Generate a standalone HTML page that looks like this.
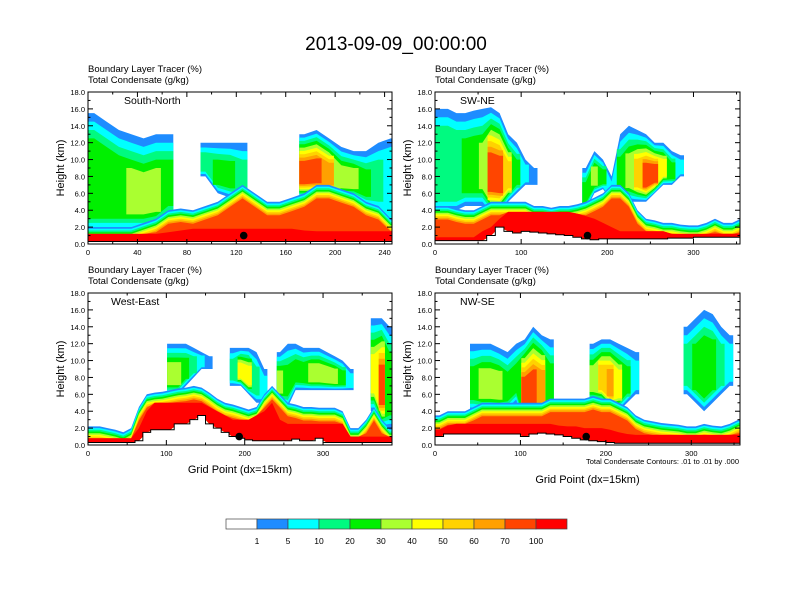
<!DOCTYPE html>
<html><head><meta charset="utf-8"><style>
html,body{margin:0;padding:0;background:#fff}
svg{display:block;font-family:"Liberation Sans",sans-serif}
</style></head><body>
<svg id="c" width="792" height="612" viewBox="0 0 792 612">
<text x="396" y="50" font-size="19" text-anchor="middle">2013-09-09_00:00:00</text>
</svg>
<script>
const levels = ["1","5","10","20","30","40","50","60","70","100"];
const colors = ["#ffffff","#1e8cff","#00ffff","#00fa80","#00f000","#aaff30","#ffff00","#ffd200","#ffa000","#ff4500","#ff0000"];
// Panel 1 South-North, columns every 10 grid points
const p1x = [0,10,20,30,40,50,60,70,80,90,100,110,120,130,140,150,160,170,180,190,200,210,220,230,240];
const p1ground = [0.3,0.3,0.3,0.3,0.3,0.3,0.3,0.3,0.3,0.3,0.3,0.3,0.3,0.3,0.3,0.3,0.3,0.3,0.3,0.3,0.3,0.3,0.3,0.3,0.3];
const p1low = [2,2,2,2,2.5,3,4,4.2,4,4.5,5,6,7,6,5,5,5.5,6,7,7,6.5,6,5,4.5,3];
const p1red = [1.2,1.2,1.2,1.2,1.2,1.2,1.4,1.6,1.8,1.8,1.8,1.8,1.8,1.8,1.8,1.8,1.8,1.6,1.5,1.5,1.5,1.5,1.5,1.5,1.5];
const p1cb = [1.5,1.5,1.5,1.5,1.5,1.8,3,0,0,8,6,5.5,5,0,0,0,0,5.5,5.5,5.5,5.5,5.5,4.5,4,2.5];
const p1ct = [15.5,14.5,13.5,13,12.5,13,13,0,0,12,12,12,12,0,0,0,0,13,13.5,12.5,11.5,11,11,12,12.5];
const p1cm = [4,4,4,5,5,5,4,0,0,3,4,4,3,0,0,0,0,9,9,8,5,5,4,3,2];
// Panel 2 SW-NE
const p2x = [0,10,20,30,40,50,60,70,80,90,100,110,120,130,140,150,160,170,180,190,200,210,220,230,240,250,260,270,280,290,300,310,320,330,340,350];
const p2ground = [0.4,0.4,0.4,0.4,0.4,0.4,1,2,1.5,1.3,1.5,1.4,1.3,1.2,1.1,1,0.8,0.6,0.5,0.6,0.6,0.6,0.6,0.6,0.6,0.6,0.6,0.7,0.7,0.7,0.8,0.8,0.8,0.8,0.8,0.8];
const p2low = [4.5,4.5,4.2,4,4,4.5,5,5,5,5,5,4.5,4.5,4.3,4.5,4.5,4.7,5,5.5,6,7,7,6,4,3,2.8,2.5,2.5,2.3,2.2,2.2,2.5,3,2.5,2.5,3];
const p2red = [0.8,0.8,0.8,0.8,0.8,1.5,2,3,3.8,3.8,3.8,3.8,3.8,3.8,3.8,3.8,3.6,3.3,3,2.5,2,1.5,1.5,1.5,1.5,1.5,1.5,1.2,1.2,1.2,1.2,1.2,1.2,1.2,1.2,1.2];
const p2cb = [4,4,4,4.5,4.5,4.5,3.5,3.5,5,6,7,7,0,0,0,0,0,4,6,6.5,5,5,5,5,5,6,7,7,8,0,0,0,0,0,0,0];
const p2ct = [16,16,15.5,15.5,15.8,16,16.2,15.5,13,12,10,9,0,0,0,0,0,9,11,10,8,13,14,13.5,13,12,12,11,10.5,0,0,0,0,0,0,0];
const p2cm = [3,3,3,4,4,5,9,9,7,4,2,1,0,0,0,0,0,4,5,4,2,4,5,7,9,9,6,4,2,0,0,0,0,0,0,0];
// Panel 3 West-East
const p3x = [0,10,20,30,40,50,60,70,80,90,100,110,120,130,140,150,160,170,180,190,200,210,220,230,240,250,260,270,280,290,300,310,320,330,340,350,360,370,380];
const p3ground = [0.3,0.3,0.3,0.3,0.3,0.3,0.5,1.5,1.8,1.8,1.8,2.5,2.5,3,3.5,2.5,2,1.5,1,0.8,0.6,0.5,0.5,0.5,0.5,0.5,0.7,0.5,0.5,0.8,0.3,0.3,0.3,0.3,0.3,0.3,0.3,0.3,0.3];
const p3low = [2.2,2.2,2,1.8,1.5,2,4.5,6,6.2,6.3,6.5,6.7,6.8,7,6.8,6.2,5.5,5,4.8,4.5,4.2,4.5,6,7,6,5,4.8,4.5,4.5,4.4,4.4,4.4,4,2,2,3,4.5,3,2];
const p3red = [0.8,0.8,0.8,0.8,0.8,0.8,2,4,5,5,5,5,5,5,5,4.5,4,3.5,3,3,3,3.5,4,5,3,2.5,2.5,2.5,2.5,2.5,2.5,2.5,2.5,1,1,1,1,1,1];
const p3cb = [0,0,0,0,0,0,0,0,0,0,6,6,7,8,9,9,0,0,7,7,6,5,5,0,5,4.5,6.5,6.5,6.5,6.5,6.5,6.5,6.5,6.5,0,0,4,2,2];
const p3ct = [0,0,0,0,0,0,0,0,0,0,12,12,12,11.5,11,10.5,0,0,11.5,11.5,11.5,11,9,0,11,12,12,11.5,11.5,11.5,11,10.5,10,9,0,0,15,15,14];
const p3cm = [0,0,0,0,0,0,0,0,0,0,5,5,4,3,2,1,0,0,3,6,6,3,2,0,5,4,4,4,5,5,5,5,4,2,0,0,6,9,4];
// Panel 4 NW-SE
const p4x = [0,10,20,30,40,50,60,70,80,90,100,110,120,130,140,150,160,170,180,190,200,210,220,230,240,250,260,270,280,290,300,310,320,330,340,350];
const p4ground = [1,1.3,1.3,1.3,1.3,1.3,1.3,1.3,1.3,1.3,1,1.3,1.4,1.3,1.2,1,0.8,0.6,0.5,0.4,0.3,0.2,0.2,0.2,0.2,0.2,0.2,0.2,0.2,0.2,0.2,0.2,0.2,0.2,0.2,0.2];
const p4low = [3.5,4,4,4,4.5,5,5,5,5,5,5,5,5,5.5,5.5,5.5,5.5,5.5,5.8,5.5,5.5,5,4.5,3.5,3,2.8,2.6,2.5,2.4,2.2,2.2,2.5,2.3,2.2,2.5,3];
const p4red = [1.8,2.3,2.5,2.5,2.5,2.5,2.5,2.5,2.5,2.5,2.5,2.5,2.5,2.5,2.3,2.2,2.2,2,2,2,1.8,1.5,1.3,1.2,1.2,1.2,1.2,1.2,1.2,1.2,1.2,1.2,1.2,1.2,1.2,1.2];
const p4cb = [0,0,0,0,4,4,4,4,4,5,2,2,3,4,0,0,0,0,5,5,4,4,5,6,0,0,0,0,0,6,5,4,5,6,7,0];
const p4ct = [0,0,0,0,12,12,12,11.5,11,12,12.5,14,13,12.5,0,0,0,0,12,12.5,12.5,12,11.5,11,0,0,0,0,0,14,15,16,15.5,14,13,0];
const p4cm = [0,0,0,0,4,5,5,5,4,4,9,9,8,4,0,0,0,0,5,7,8,6,4,2,0,0,0,0,0,3,4,4,4,3,2,0];
const yTicks = [0,2,4,6,8,10,12,14,16,18];
const dots = [126,177,193,177];

const svg = document.getElementById('c');
const NS = 'http://www.w3.org/2000/svg';
function mk(tag, attrs, parent){const e=document.createElementNS(NS,tag);for(const k in attrs)e.setAttribute(k,attrs[k]);(parent||svg).appendChild(e);return e;}

const panels = [
 {name:'South-North',key:'south-north',L:88,R:392,T:92,B:244,xmax:246,ticks:[0,40,80,120,160,200,240],minor:20,xs:p1x,g:p1ground,lo:p1low,rd:p1red,cb:p1cb,ct:p1ct,cm:p1cm,lx:124,xt:false},
 {name:'SW-NE',key:'sw-ne',L:435,R:740,T:92,B:244,xmax:354,ticks:[0,100,200,300],minor:50,xs:p2x,g:p2ground,lo:p2low,rd:p2red,cb:p2cb,ct:p2ct,cm:p2cm,lx:460,xt:false},
 {name:'West-East',key:'west-east',L:88,R:392,T:293,B:445,xmax:388,ticks:[0,100,200,300],minor:50,xs:p3x,g:p3ground,lo:p3low,rd:p3red,cb:p3cb,ct:p3ct,cm:p3cm,lx:111,xt:true,xty:473},
 {name:'NW-SE',key:'nw-se',L:435,R:740,T:293,B:445,xmax:357,ticks:[0,100,200,300],minor:50,xs:p4x,g:p4ground,lo:p4low,rd:p4red,cb:p4cb,ct:p4ct,cm:p4cm,lx:460,xt:true,xty:483,note:true}
];

panels.forEach((p,pi)=>{
  const gp = mk('g',{});
  
  
  const X = v => p.L + v/p.xmax*(p.R-p.L);
  const Y = v => p.B - v/18*(p.B-p.T);
  const cid='clip'+pi;
  const cp=mk('clipPath',{id:cid},gp); mk('rect',{x:p.L,y:p.T,width:p.R-p.L,height:p.B-p.T},cp);
  const field=mk('g',{'clip-path':'url(#'+cid+')'},gp);
  
  
  const n=p.xs.length;
  const step=p.xs[1]-p.xs[0];
  const cx=i=>p.xs[i]+step/2;
  function runs(cond, top, bot, lv){
    let i=0;
    while(i<n){
      if(!cond(i)){i++;continue;}
      let j=i; while(j+1<n && cond(j+1)) j++;
      const xsL = i===0?0:p.xs[i]+1, xsR = j===n-1?p.xmax+2:p.xs[j]+step-1;
      const pts=[];
      pts.push([xsL,top(i)]);
      for(let k=i;k<=j;k++) pts.push([cx(k),top(k)]);
      pts.push([xsR,top(j)]);
      pts.push([xsR,bot(j)]);
      for(let k=j;k>=i;k--) pts.push([cx(k),bot(k)]);
      pts.push([xsL,bot(i)]);
      const poly=mk('polygon',{points:pts.map(q=>X(q[0]).toFixed(1)+','+Y(q[1]).toFixed(1)).join(' '),fill:colors[lv]},field);
      
      
      i=j+1;
    }
  }
  const maxM=10;
  const sc=i=>Math.min(1.0,(p.ct[i]-p.cb[i])/(2*p.cm[i]+1));
  for(let k=1;k<=maxM;k++){
    runs(i=>p.cm[i]>=k, i=>p.ct[i]-(k-1)*sc(i), i=>p.cb[i]+(k-1)*sc(i)*0.5, k);
  }
  const s=0.2;
  for(let k=1;k<=8;k++) runs(()=>true, i=>p.lo[i]-(k-1)*s, i=>p.g[i], k);
  runs(()=>true, i=>Math.max(p.lo[i]-8*s,p.rd[i]), i=>p.g[i], 9);
  runs(()=>true, i=>p.rd[i], i=>p.g[i], 10);
  let d='', dfill='M'+X(0)+','+Y(0);
  for(let i=0;i<n;i++){const x0=i===0?0:p.xs[i], x1=i===n-1?p.xmax+2:p.xs[i+1]; d+=(i?'L':'M')+X(x0)+','+Y(p.g[i])+'L'+X(x1)+','+Y(p.g[i]); dfill+='L'+X(x0)+','+Y(p.g[i])+'L'+X(x1)+','+Y(p.g[i]);}
  dfill+='L'+X(p.xmax+2)+','+Y(0)+'Z';
  const tf=mk('path',{d:dfill,fill:'#fff'},field);
  
  
  const tl=mk('path',{d:d,fill:'none',stroke:'#000','stroke-width':1},field);
  
  
  const dot=mk('circle',{cx:X(dots[pi]),cy:Y(1.0),r:3.8,fill:'#000'},field);
  
  
  const fr=mk('rect',{x:p.L,y:p.T,width:p.R-p.L,height:p.B-p.T,fill:'none',stroke:'#000','stroke-width':1},gp);
  
  
  yTicks.forEach(v=>{
    mk('line',{x1:p.L,x2:p.L+5,y1:Y(v),y2:Y(v),stroke:'#000'},gp);
    mk('line',{x1:p.R,x2:p.R-5,y1:Y(v),y2:Y(v),stroke:'#000'},gp);
    if(v<18){mk('line',{x1:p.L,x2:p.L+2.5,y1:Y(v+1),y2:Y(v+1),stroke:'#000'},gp);mk('line',{x1:p.R,x2:p.R-2.5,y1:Y(v+1),y2:Y(v+1),stroke:'#000'},gp);}
    const t=mk('text',{x:p.L-3,y:Y(v)+3,'font-size':7.5,'text-anchor':'end'},gp); t.textContent=v.toFixed(1);
    
    
  });
  for(let v=0;v<=p.xmax;v+=p.minor){
    const maj=p.ticks.indexOf(v)>=0, len=maj?5:2.5;
    mk('line',{x1:X(v),x2:X(v),y1:p.B,y2:p.B-len,stroke:'#000'},gp);
    mk('line',{x1:X(v),x2:X(v),y1:p.T,y2:p.T+len,stroke:'#000'},gp);
  }
  p.ticks.forEach(v=>{const t=mk('text',{x:X(v),y:p.B+11,'font-size':7.5,'text-anchor':'middle'},gp);t.textContent=v;
    
    });
  const yl=mk('text',{x:0,y:0,'font-size':11,'text-anchor':'middle',transform:'translate('+(p.L-24)+','+((p.T+p.B)/2)+') rotate(-90)'},gp);yl.textContent='Height (km)';
  
  
  const h1=mk('text',{x:p.L,y:p.T-20,'font-size':9.5},gp);h1.textContent='Boundary Layer Tracer   (%)';
  
  
  const h2=mk('text',{x:p.L,y:p.T-9,'font-size':9.5},gp);h2.textContent='Total Condensate   (g/kg)';
  
  
  const nm=mk('text',{x:p.lx,y:p.T+12,'font-size':10.5},gp);nm.textContent=p.name;
  
  
  if(p.xt){const t=mk('text',{x:(p.L+p.R)/2,y:p.xty,'font-size':11,'text-anchor':'middle'},gp);t.textContent='Grid Point (dx=15km)';
    
    }
  if(p.note){const t=mk('text',{x:p.R-1,y:p.B+19,'font-size':7.5,'text-anchor':'end'},gp);t.textContent='Total Condensate Contours: .01 to .01 by .000';
    
    }
});

const cb=mk('g',{});


const cbL=226, cbW=31, cbT=519, cbH=10;
colors.forEach((c,i)=>{const r=mk('rect',{x:cbL+i*cbW,y:cbT,width:cbW,height:cbH,fill:c,stroke:'#444','stroke-width':0.7},cb);
  
  });
levels.forEach((l,i)=>{const t=mk('text',{x:cbL+(i+1)*cbW,y:cbT+25,'font-size':8.5,'text-anchor':'middle'},cb);t.textContent=l;
  
  });
</script>
</body></html>
